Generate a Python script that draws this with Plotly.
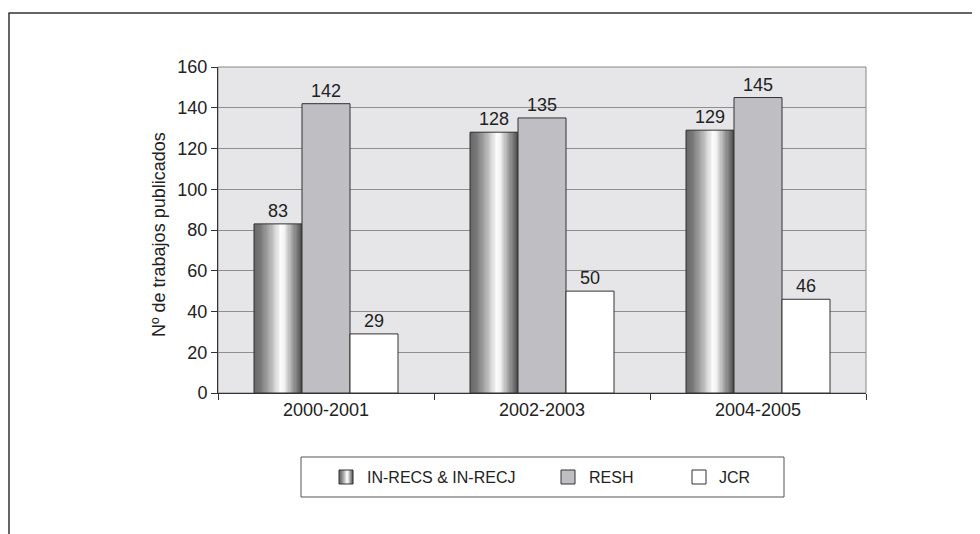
import plotly.graph_objects as go

categories = ["2000-2001", "2002-2003", "2004-2005"]
series_names = ["IN-RECS & IN-RECJ", "RESH", "JCR"]
inrecs = [83, 128, 129]
resh = [142, 135, 145]
jcr = [29, 50, 46]
y_ticks = [0, 20, 40, 60, 80, 100, 120, 140, 160]

FONT = "Liberation Sans, Arial, Helvetica, sans-serif"
TXT = "#222222"
EDGE = "#333333"
RESH_C = "#bfbfc3"
W = 2 / 9  # bar width in category units
offs = [-1 / 3, -1 / 9, 1 / 9]

# page has an 8px body margin; figure is laid out in its own pixel space
FW, FH = 972, 526
L, R, T, B = 210, 114, 59, 141
PW, PH = FW - L - R, FH - T - B


def px(x):
    return (x - L) / PW


def py(y):
    return 1 - (y - T) / PH


stops = [(0.0, 100), (0.15, 122), (0.35, 178), (0.56, 252), (0.63, 245), (0.82, 155), (1.0, 82)]


def grey(t):
    for (a, ca), (b, cb) in zip(stops[:-1], stops[1:]):
        if a <= t <= b:
            v = int(round(ca + (cb - ca) * (t - a) / (b - a)))
            return f"rgb({v},{v},{v})"
    return "rgb(128,128,128)"


fig = go.Figure()

# gradient slices for IN-RECS bars
N = 40
sw = W / N
for i in range(N):
    t = (i + 0.5) / N
    fig.add_trace(go.Bar(
        x=categories, y=inrecs, width=sw * 1.15, offset=offs[0] + i * sw,
        marker=dict(color=grey(t), line=dict(width=0)),
        showlegend=False, hoverinfo="skip"))

label_font = dict(size=18, color=TXT, family=FONT)

fig.add_trace(go.Bar(
    x=categories, y=inrecs, width=W, offset=offs[0], name=series_names[0],
    marker=dict(color="rgba(0,0,0,0)", line=dict(color=EDGE, width=1)),
    text=inrecs, textposition="outside", cliponaxis=False, textfont=label_font,
    showlegend=False))

fig.add_trace(go.Bar(
    x=categories, y=resh, width=W, offset=offs[1], name=series_names[1],
    marker=dict(color=RESH_C, line=dict(color=EDGE, width=1)),
    text=resh, textposition="outside", cliponaxis=False, textfont=label_font,
    showlegend=False))

fig.add_trace(go.Bar(
    x=categories, y=jcr, width=W, offset=offs[2], name=series_names[2],
    marker=dict(color="#ffffff", line=dict(color=EDGE, width=1)),
    text=jcr, textposition="outside", cliponaxis=False, textfont=label_font,
    showlegend=False))

shapes = [
    dict(type="rect", xref="paper", yref="paper", x0=0, x1=1, y0=0, y1=1,
         line=dict(color="#888888", width=1), layer="below"),
    dict(type="line", xref="paper", yref="paper",
         x0=px(0.5), x1=px(FW), y0=py(5), y1=py(5),
         line=dict(color=EDGE, width=1.5)),
    dict(type="line", xref="paper", yref="paper",
         x0=px(1), x1=px(1), y0=py(5), y1=py(FH + 2),
         line=dict(color=EDGE, width=1.5)),
    # legend box
    dict(type="rect", xref="paper", yref="paper",
         x0=px(293), x1=px(776), y0=py(449), y1=py(489),
         line=dict(color="#555555", width=1), fillcolor="white"),
]

# legend symbols
sym_y0, sym_y1 = 462, 476
sym_x = [331, 553, 684]
text_x = [357, 579, 709]
NS = 14
for i in range(NS):
    t = (i + 0.5) / NS
    shapes.append(dict(type="rect", xref="paper", yref="paper",
                       x0=px(sym_x[0] + i), x1=px(sym_x[0] + i + 1.1),
                       y0=py(sym_y1), y1=py(sym_y0),
                       line=dict(width=0), fillcolor=grey(t)))
shapes.append(dict(type="rect", xref="paper", yref="paper",
                   x0=px(sym_x[0]), x1=px(sym_x[0] + 14), y0=py(sym_y1), y1=py(sym_y0),
                   line=dict(color=EDGE, width=1)))
for xs, col in ((sym_x[1], RESH_C), (sym_x[2], "#ffffff")):
    shapes.append(dict(type="rect", xref="paper", yref="paper",
                       x0=px(xs), x1=px(xs + 14), y0=py(sym_y1), y1=py(sym_y0),
                       line=dict(color=EDGE, width=1), fillcolor=col))

annotations = [
    dict(text="Nº de trabajos publicados", xref="paper", yref="paper",
         x=px(139), y=py(227), textangle=-90, showarrow=False,
         font=dict(size=18, family=FONT, color=TXT))
]
for name, tx in zip(series_names, text_x):
    annotations.append(dict(text=name, xref="paper", yref="paper", x=px(tx), y=py(469),
                            xanchor="left", yanchor="middle", showarrow=False,
                            font=dict(size=16, family=FONT, color=TXT)))

fig.update_layout(
    width=FW, height=FH,
    margin=dict(l=L, r=R, t=T, b=B),
    barmode="overlay",
    paper_bgcolor="white",
    plot_bgcolor="#e6e6e8",
    font=dict(family=FONT, size=18, color=TXT),
    showlegend=False,
    xaxis=dict(
        type="category", tickson="boundaries", ticks="outside", ticklen=6,
        tickcolor=EDGE, showline=True, linecolor=EDGE, linewidth=1,
        showgrid=False, tickfont=dict(size=18, family=FONT, color=TXT),
        range=[-0.5, 2.5]),
    yaxis=dict(
        range=[0, 160], tickvals=y_ticks, ticks="outside", ticklen=6,
        tickcolor=EDGE, showline=True, linecolor=EDGE, linewidth=1,
        showgrid=True, gridcolor="#8f8f8f", gridwidth=1, zeroline=False,
        tickfont=dict(size=18, family=FONT, color=TXT)),
    shapes=shapes,
    annotations=annotations,
)

fig.write_html("out.html")
